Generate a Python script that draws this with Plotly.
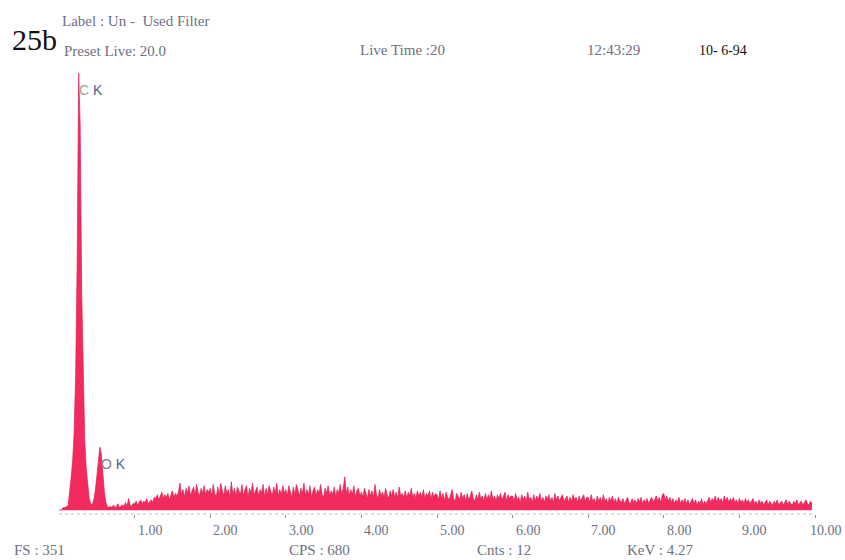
import numpy as np
import plotly.graph_objects as go

# EDS spectrum, 0.02 keV per channel, counts per channel grouped by keV
channel_kev = 0.02
counts_0 = [0, 0, 1, 2, 2, 3,
            3, 12, 25, 38, 60, 105, 190, 340, 300, 170, 95, 55, 32, 18, 9, 5, 4,
            8, 15, 26, 38, 49, 44, 28, 14, 6, 3, 2,
            3, 2, 4, 2, 3, 5, 2, 3, 4, 3, 6, 3, 9, 4, 3, 5]
counts_1 = [5, 7, 4, 6, 8, 5, 7, 6, 9, 5, 7, 8, 6, 10,
            9, 12, 8, 11, 14, 9, 12, 10, 13, 8, 12, 15, 10, 13, 11, 14,
            21, 12, 16, 10, 17, 13, 19, 11, 15, 18, 12, 20, 14, 11, 17, 13, 19, 12, 16, 14]
counts_2 = [17, 11, 20, 13, 10, 18, 12, 21, 15, 11, 19, 13, 16, 10, 22, 12, 17, 11, 18, 14,
            12, 20, 11, 16, 19, 10, 17, 13, 21, 12, 15, 18, 11, 16, 13, 20, 10, 17, 12, 19,
            15, 11, 18, 13, 21, 11, 16, 12, 19, 13]
counts_3 = [16, 11, 19, 13, 10, 18, 12, 20, 15, 11, 17, 13, 21, 11, 16, 12, 19, 10, 15, 18,
            11, 16, 13, 20, 12, 10, 17, 13, 19, 11, 15, 12, 18, 10, 16, 13, 20, 12, 17, 26,
            13, 18, 11, 16, 12, 19, 10, 15, 17, 11]
counts_4 = [14, 10, 17, 12, 9, 16, 11, 15, 10, 20, 12, 9, 16, 11, 14, 10, 17, 12, 9, 15,
            11, 16, 10, 14, 9, 18, 11, 13, 10, 15, 9, 14, 11, 17, 10, 13, 9, 15, 11, 14,
            10, 16, 9, 13, 11, 15, 9, 14, 10, 13]
counts_5 = [12, 8, 15, 9, 13, 7, 14, 10, 8, 12, 16, 9, 7, 13, 10, 8, 14, 9, 12, 7,
            13, 8, 11, 15, 9, 7, 12, 8, 14, 9, 11, 7, 13, 8, 12, 9, 15, 8, 11, 7,
            12, 9, 13, 8, 11, 14, 7, 12, 9, 11]
counts_6 = [11, 7, 13, 8, 10, 6, 12, 8, 11, 7, 14, 8, 10, 6, 12, 7, 11, 8, 13, 7,
            10, 6, 11, 8, 12, 7, 10, 6, 13, 8, 11, 7, 10, 12, 7, 9, 11, 6, 10, 7,
            12, 8, 10, 6, 11, 7, 9, 12, 7, 10]
counts_7 = [10, 6, 12, 7, 9, 5, 11, 7, 10, 6, 12, 7, 9, 5, 10, 7, 11, 6, 9, 5,
            10, 7, 6, 9, 5, 8, 10, 6, 5, 9, 6, 8, 5, 9, 6, 10, 5, 8, 6, 9,
            5, 8, 10, 6, 9, 11, 7, 10, 6, 12]
counts_8 = [13, 8, 11, 7, 10, 6, 9, 5, 8, 6, 10, 5, 8, 6, 9, 5, 8, 4, 7, 9,
            5, 8, 4, 7, 5, 9, 4, 7, 5, 8, 10, 6, 9, 7, 11, 6, 10, 7, 9, 6,
            11, 7, 10, 6, 9, 7, 10, 6, 8, 5]
counts_9 = [9, 6, 8, 5, 9, 6, 8, 5, 7, 9, 5, 7, 4, 8, 5, 7, 4, 6, 8, 4,
            7, 5, 4, 7, 5, 8, 4, 6, 7, 4, 6, 8, 4, 7, 5, 4, 7, 5, 8, 4,
            6, 7, 4, 6, 8, 5, 4, 7, 5]

tick_values = [1, 2, 3, 4, 5, 6, 7, 8, 9, 10]
tick_labels = ["1.00", "2.00", "3.00", "4.00", "5.00", "6.00", "7.00", "8.00", "9.00", "10.00"]
full_scale = 351

counts = np.array(counts_0 + counts_1 + counts_2 + counts_3 + counts_4 +
                  counts_5 + counts_6 + counts_7 + counts_8 + counts_9)
energy = np.arange(len(counts)) * channel_kev

W, H = 845, 560
L, R, T, B = 59, 30, 59, 46


def px(x):
    return (x - L) / (W - L - R)


def py(y):
    return (H - B - y) / (H - T - B)


SERIF = "Liberation Serif, Times New Roman, serif"
GREY = "#6e7082"

fig = go.Figure()
fig.add_trace(go.Scatter(
    x=energy, y=counts, mode="lines", fill="tozeroy",
    line=dict(color="#e01f52", width=0.7),
    fillcolor="#f22a5e", hoverinfo="skip", showlegend=False,
))

# dotted energy axis
fig.add_shape(type="line", xref="x", yref="paper", x0=0, x1=10, y0=0, y1=0,
              line=dict(color="#b9c3c6", width=1, dash="dot"))

# energy tick labels, printed just right of each tick (last one pulled in to fit)
for v, lab in zip(tick_values, tick_labels):
    fig.add_annotation(text=lab, x=v, xref="x", y=py(530), yref="paper",
                       xanchor="left", yanchor="middle", showarrow=False,
                       xshift=-7 if v == tick_values[-1] else 1,
                       font=dict(family=SERIF, size=14, color=GREY))

annots = [
    ("25b", 10, 40, 30, "#111111", "left"),
    ("Label : Un -  Used Filter", 60, 21, 15, GREY, "left"),
    ("Preset Live: 20.0", 62, 51, 15, GREY, "left"),
    ("Live Time :20", 358, 50, 15, GREY, "left"),
    ("12:43:29", 585, 50, 15, GREY, "left"),
    ("10- 6-94", 697, 50, 14, "#111111", "left"),
    ("FS : 351", 12, 550, 15, GREY, "left"),
    ("CPS : 680", 287, 550, 15, GREY, "left"),
    ("Cnts : 12", 475, 550, 15, GREY, "left"),
    ("KeV : 4.27", 625, 550, 15, GREY, "left"),
]
for text, x, y, size, color, anchor in annots:
    fig.add_annotation(text=text, xref="paper", yref="paper", x=px(x), y=py(y),
                       xanchor=anchor, yanchor="middle", showarrow=False,
                       font=dict(family=SERIF, size=size, color=color))

# peak labels
peak_labels = [("<span style='color:#9aa39c'>C</span> K", 0.27, 340),
               ("<span style='color:#7d7f86'>O</span> K", 0.55, 49)]
for text, xe, yc in peak_labels:
    fig.add_annotation(text=text, x=xe, y=yc, xref="x", yref="y",
                       xanchor="left", yanchor="top", xshift=-2, yshift=-7,
                       showarrow=False,
                       font=dict(family="Liberation Sans, Arial, sans-serif", size=14,
                                 color="#4f5f8e"))

fig.update_layout(
    width=W, height=H,
    margin=dict(l=L, r=R, t=T, b=B),
    paper_bgcolor="white", plot_bgcolor="white",
    xaxis=dict(range=[0, 10], showgrid=False, zeroline=False, showline=False,
               tickvals=tick_values, showticklabels=False,
               ticks="outside", ticklen=3, tickwidth=1, tickcolor="#8a909a"),
    yaxis=dict(range=[-3, full_scale], showgrid=False, zeroline=False,
               showline=False, showticklabels=False, ticks=""),
)

fig.write_html("out.html")
